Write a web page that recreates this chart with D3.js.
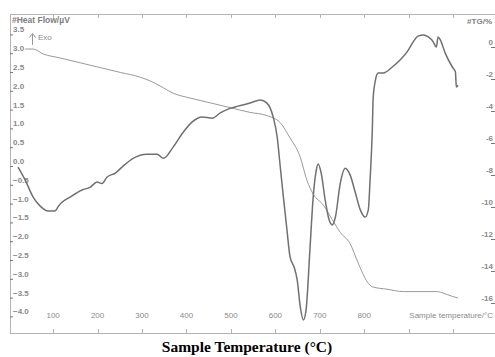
<!DOCTYPE html>
<html>
<head>
<meta charset="utf-8">
<script src="https://cdn.jsdelivr.net/npm/d3@7"></script>
<style>
  body { margin: 0; background: #fff; }
  svg { display: block; }
  text { font-family: "Liberation Sans", Arial, sans-serif; }
  text.title { font-family: "Liberation Serif", "Times New Roman", serif; }
</style>
</head>
<body>
<figure id="chart" style="margin:0"></figure>
<script>
// DSC heat flow (thick curve)
const dscTemp = [21, 37, 55, 71, 89, 104, 111, 118, 138, 165, 183, 199, 210, 221, 240, 258, 280, 311, 334, 348, 370, 393, 413, 435, 458, 476, 498, 516, 543, 566, 581, 595, 604, 611, 618, 626, 633, 642, 649, 656, 663, 669, 678, 685, 692, 696, 703, 712, 721, 728, 735, 746, 757, 768, 780, 791, 802, 809, 813, 818, 820, 825, 831, 843, 863, 881, 899, 910, 921, 933, 944, 955, 962, 966, 971, 982, 998, 1005, 1007, 1011];
const dscValue = [-0.16, -0.5, -0.96, -1.2, -1.33, -1.33, -1.22, -1.12, -0.96, -0.77, -0.7, -0.56, -0.6, -0.43, -0.32, -0.13, 0.07, 0.18, 0.18, 0.07, 0.37, 0.77, 1.04, 1.17, 1.14, 1.28, 1.4, 1.46, 1.54, 1.62, 1.54, 1.17, 0.64, -0.16, -0.96, -1.83, -2.55, -2.82, -3.16, -3.88, -4.23, -3.96, -2.29, -0.96, -0.24, -0.08, -0.32, -1.04, -1.57, -1.7, -1.49, -0.59, -0.19, -0.37, -0.85, -1.3, -1.49, -1.3, -0.5, 0.82, 1.7, 2.15, 2.34, 2.34, 2.5, 2.69, 2.95, 3.17, 3.32, 3.35, 3.3, 3.17, 3.03, 3.3, 3.22, 2.87, 2.5, 2.37, 1.97, 2.02];

// TG mass change (thin curve)
const tgTemp = [37, 55, 78, 116, 161, 206, 251, 296, 318, 341, 370, 408, 453, 498, 543, 581, 611, 633, 656, 671, 685, 708, 728, 746, 768, 786, 807, 818, 851, 888, 964, 978, 998, 1011];
const tgValue = [-0.44, -0.44, -0.75, -1.0, -1.3, -1.6, -1.9, -2.2, -2.43, -2.75, -3.2, -3.5, -3.8, -4.1, -4.4, -4.6, -5.05, -6.0, -7.2, -8.65, -9.5, -10.2, -11.1, -11.9, -12.6, -13.8, -15.0, -15.3, -15.45, -15.6, -15.6, -15.7, -15.9, -16.0];

const xTicks = [100, 200, 300, 400, 500, 600, 700, 800, 900, 1000];
const xTickLabels = ["100", "200", "300", "400", "500", "600", "700", "800", "", ""];
const hfTicks = [3.5, 3.0, 2.5, 2.0, 1.5, 1.0, 0.5, 0.0, -0.5, -1.0, -1.5, -2.0, -2.5, -3.0, -3.5, -4.0];
const tgTicks = [0, -2, -4, -6, -8, -10, -12, -14, -16];

const W = 495, H = 357;
const mLeft = 10, mTop = 14, mBottom = 333, mRight = 499;

const svg = d3.select("#chart").append("svg")
  .attr("width", W).attr("height", H);

const x = d3.scaleLinear().domain([3, 1103]).range([mLeft, mRight]);
const yHF = d3.scaleLinear().domain([0, -4]).range([161, 311.4]);
const yTG = d3.scaleLinear().domain([0, -16]).range([42, 298]);

const frame = "#b4b4b4", label = "#8a8a8a";

// frame
svg.append("line").attr("x1", mLeft + 0.5).attr("x2", mLeft + 0.5).attr("y1", mTop).attr("y2", mBottom).attr("stroke", frame);
svg.append("line").attr("x1", mLeft).attr("x2", W).attr("y1", mTop + 0.5).attr("y2", mTop + 0.5).attr("stroke", frame);
svg.append("line").attr("x1", mLeft).attr("x2", W).attr("y1", mBottom + 0.5).attr("y2", mBottom + 0.5).attr("stroke", frame);

// x ticks (top and bottom)
svg.selectAll(".xt-top").data(xTicks).enter().append("line")
  .attr("x1", d => Math.round(x(d)) + 0.5).attr("x2", d => Math.round(x(d)) + 0.5)
  .attr("y1", mTop).attr("y2", mTop + 4).attr("stroke", frame);
svg.selectAll(".xt-bot").data(xTicks).enter().append("line")
  .attr("x1", d => Math.round(x(d)) + 0.5).attr("x2", d => Math.round(x(d)) + 0.5)
  .attr("y1", mBottom - 4).attr("y2", mBottom).attr("stroke", frame);
svg.selectAll(".xl").data(xTicks).enter().append("text")
  .attr("x", d => x(d)).attr("y", 318)
  .attr("text-anchor", "middle").attr("font-size", 8).attr("fill", label)
  .text((d, i) => xTickLabels[i]);
svg.append("text").attr("x", 493).attr("y", 318).attr("text-anchor", "end")
  .attr("font-size", 8).attr("fill", label).text("Sample temperature/°C");

// left axis (heat flow)
svg.selectAll(".hft").data(hfTicks).enter().append("line")
  .attr("x1", mLeft).attr("x2", mLeft + 3)
  .attr("y1", d => yHF(d) + 5.5).attr("y2", d => yHF(d) + 5.5).attr("stroke", "#777");
svg.selectAll(".hfl").data(hfTicks).enter().append("text")
  .attr("x", 13).attr("y", d => yHF(d) + 3)
  .attr("font-size", 8).attr("font-weight", "bold").attr("fill", label)
  .text(d => d3.format(".1f")(d));
svg.append("text").attr("x", 12).attr("y", 23).attr("font-size", 8.5).attr("font-weight", "bold")
  .attr("fill", "#808080").text("#Heat Flow/µV");

// Exo arrow
svg.append("line").attr("x1", 32.5).attr("x2", 32.5).attr("y1", 34).attr("y2", 45).attr("stroke", "#999");
svg.append("path").attr("d", "M29.5,37.5 L32.5,33.5 L35.5,37.5").attr("fill", "none").attr("stroke", "#999");
svg.append("text").attr("x", 38).attr("y", 40).attr("font-size", 8).attr("fill", label).text("Exo");

// right axis (TG)
svg.selectAll(".tgt").data(tgTicks).enter().append("line")
  .attr("x1", 491).attr("x2", 495)
  .attr("y1", d => yTG(d) + 5.5).attr("y2", d => yTG(d) + 5.5).attr("stroke", "#777");
svg.selectAll(".tgl").data(tgTicks).enter().append("text")
  .attr("x", 493).attr("y", d => yTG(d) + 3).attr("text-anchor", "end")
  .attr("font-size", 8).attr("font-weight", "bold").attr("fill", label)
  .text(d => d);
svg.append("text").attr("x", 492).attr("y", 24).attr("text-anchor", "end")
  .attr("font-size", 8).attr("font-weight", "bold").attr("fill", "#808080").text("#TG/%");

// curves
const tgLine = d3.line().x((d, i) => x(tgTemp[i])).y(d => yTG(d)).curve(d3.curveMonotoneX);
svg.append("path").datum(tgValue).attr("d", tgLine)
  .attr("fill", "none").attr("stroke", "#9a9a9a").attr("stroke-width", 1);

const dscLine = d3.line().x((d, i) => x(dscTemp[i])).y(d => yHF(d)).curve(d3.curveMonotoneX);
svg.append("path").datum(dscValue).attr("d", dscLine)
  .attr("fill", "none").attr("stroke", "#707070").attr("stroke-width", 1.5);

// chart title
svg.append("text").attr("class", "title").attr("x", 247).attr("y", 352).attr("text-anchor", "middle")
  .attr("font-weight", "bold").attr("font-size", 15.5).attr("fill", "#000")
  .text("Sample Temperature (°C)");
</script>
</body>
</html>
